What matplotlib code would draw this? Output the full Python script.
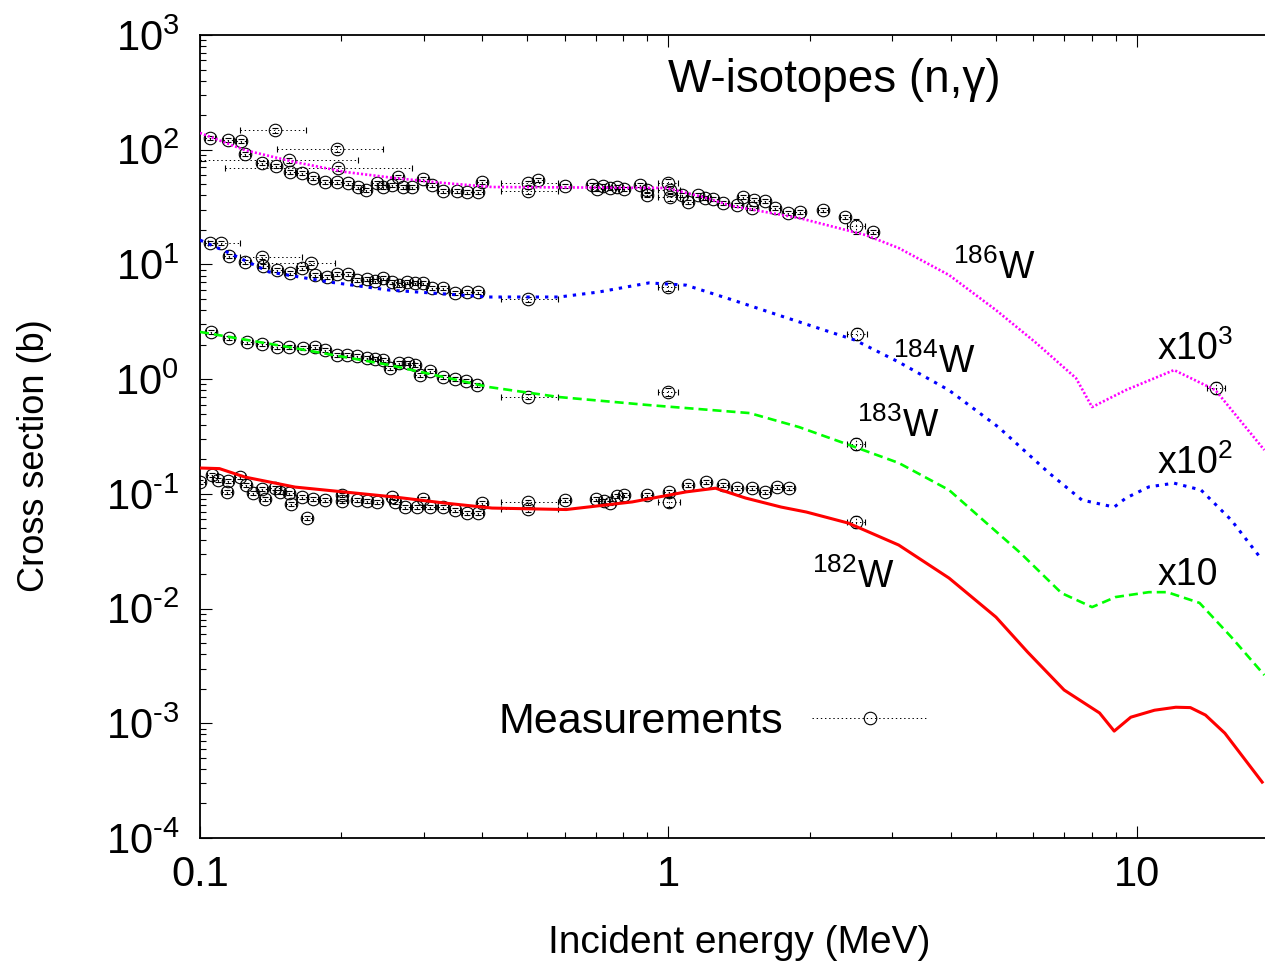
import numpy as np
import matplotlib
matplotlib.use("Agg")
import matplotlib.pyplot as plt
from matplotlib.ticker import FixedLocator, LogLocator, NullFormatter, FuncFormatter
from matplotlib.container import ErrorbarContainer
from matplotlib.legend_handler import HandlerErrorbar

plt.rcParams['font.family'] = ['Liberation Sans', 'DejaVu Sans']
plt.rcParams['mathtext.fontset'] = 'custom'
plt.rcParams['mathtext.rm'] = 'Liberation Sans'
plt.rcParams['mathtext.it'] = 'Liberation Sans:italic'
plt.rcParams['mathtext.bf'] = 'Liberation Sans:bold'
plt.rcParams['axes.unicode_minus'] = False
plt.rcParams['lines.scale_dashes'] = False

FS = 30

# ---- evaluated curves (barns), plotted times the scale factor ----
c182_e = [0.100, 0.110, 0.1248, 0.1595, 0.204, 0.2605, 0.333, 0.42, 0.605, 0.836, 1.09, 1.26, 1.46,
          1.74, 1.97, 2.42, 3.1, 3.97, 5.0, 5.84, 6.99, 8.32, 8.94, 9.7, 10.9, 12.1, 13.0, 14.0, 15.4, 18.5]
c182_s = [0.168, 0.166, 0.140, 0.1146, 0.1037, 0.0938, 0.0831, 0.0752, 0.073, 0.085, 0.104, 0.112, 0.092,
          0.0767, 0.0694, 0.0556, 0.0358, 0.01845, 0.00843, 0.00418, 0.00195, 0.00123, 0.000855, 0.00113,
          0.0013, 0.00138, 0.00137, 0.00118, 0.00082, 0.000307]

c183_e = [0.100, 0.155, 0.253, 0.414, 0.584, 0.908, 1.49, 1.9, 2.5, 3.1, 3.97, 5.64, 6.9, 8.02, 9.0,
          10.6, 11.6, 13.6, 15.9, 18.7]
c183_s = [0.258, 0.190, 0.133, 0.0853, 0.0698, 0.0594, 0.0506, 0.0382, 0.0256, 0.0186, 0.0108, 0.00305,
          0.001365, 0.00103, 0.00126, 0.00139, 0.00139, 0.00112, 0.000564, 0.000263]

c184_e = [0.100, 0.1153, 0.1404, 0.1886, 0.253, 0.414, 0.584, 0.71, 0.908, 1.09, 1.37, 1.74, 2.5, 3.10,
          3.97, 5.06, 6.49, 7.63, 8.94, 9.47, 10.6, 12.0, 13.7, 15.9, 18.5]
c184_s = [0.163, 0.126, 0.086, 0.0703, 0.0598, 0.052, 0.052, 0.0575, 0.069, 0.066, 0.049, 0.0355, 0.0219,
          0.0141, 0.0080, 0.00382, 0.00152, 0.000883, 0.000767, 0.000919, 0.00115, 0.00124, 0.00108,
          0.00059, 0.000265]

c186_e = [0.100, 0.1248, 0.1595, 0.204, 0.2605, 0.333, 0.42, 0.989, 1.179, 1.366, 1.90, 2.64, 3.10, 3.97,
          5.0, 6.09, 7.41, 8.02, 9.47, 12.0, 14.7, 18.7]
c186_s = [0.140, 0.099, 0.078, 0.064, 0.0566, 0.0512, 0.0473, 0.0464, 0.0389, 0.0323, 0.0254, 0.0180,
          0.0139, 0.00808, 0.0040, 0.00207, 0.00102, 0.000571, 0.000803, 0.00120, 0.000803, 0.000241]

# ---- measurements (barns), small error bars ----
e182 = [0.1000, 0.1061, 0.1093, 0.1142, 0.1148, 0.1217, 0.1254, 0.1298, 0.1356, 0.1376, 0.1446, 0.1482,
        0.1549, 0.1564, 0.1651, 0.1692, 0.1742, 0.1848, 0.2010, 0.2010, 0.2163, 0.2272, 0.2387, 0.2569,
        0.2608, 0.2739, 0.2906, 0.2992, 0.3097, 0.3302, 0.3502, 0.3715, 0.3922, 0.3999,
        0.601, 0.700, 0.728, 0.750, 0.777, 0.804, 0.900, 1.003, 1.101, 1.202, 1.307, 1.400, 1.508, 1.607,
        1.705, 1.808]
s182 = [0.127, 0.146, 0.132, 0.104, 0.129, 0.140, 0.119, 0.102, 0.110, 0.090, 0.112, 0.104,
        0.102, 0.0815, 0.094, 0.0615, 0.090, 0.088, 0.098, 0.087, 0.088, 0.087, 0.085, 0.094,
        0.085, 0.077, 0.077, 0.090, 0.077, 0.077, 0.072, 0.068, 0.068, 0.083,
        0.088, 0.090, 0.087, 0.083, 0.096, 0.098, 0.098, 0.104, 0.119, 0.127, 0.119, 0.112, 0.112, 0.104,
        0.1145, 0.112]

e183 = [0.1055, 0.1153, 0.1260, 0.1356, 0.1460, 0.1549, 0.1659, 0.1760, 0.1848, 0.1961, 0.2060, 0.2163,
        0.2272, 0.2363, 0.2459, 0.2544, 0.2660, 0.2780, 0.2877, 0.2949, 0.3097, 0.3302, 0.3502, 0.3696,
        0.3902]
s183 = [0.257, 0.228, 0.211, 0.202, 0.191, 0.191, 0.187, 0.191, 0.179, 0.162, 0.162, 0.159,
        0.153, 0.150, 0.147, 0.125, 0.138, 0.138, 0.133, 0.109, 0.118, 0.104, 0.100, 0.096,
        0.089]

e184 = [0.1050, 0.1153, 0.1248, 0.1363, 0.1460, 0.1556, 0.1651, 0.1760, 0.1867, 0.1961, 0.2070, 0.2163,
        0.2272, 0.2363, 0.2459, 0.2569, 0.2660, 0.2766, 0.2877, 0.2992, 0.3127, 0.3302, 0.3502, 0.3715,
        0.3922]
s184 = [0.154, 0.118, 0.105, 0.0968, 0.0894, 0.0841, 0.0930, 0.0808, 0.0777, 0.0825, 0.0825, 0.0731,
        0.0746, 0.0717, 0.0761, 0.0703, 0.0661, 0.0703, 0.0688, 0.0688, 0.0623, 0.0623, 0.0563, 0.0575,
        0.0575]

e186 = [0.1050, 0.1148, 0.1223, 0.1248, 0.1356, 0.1453, 0.1556, 0.1651, 0.1742, 0.1848, 0.1961, 0.2070,
        0.2174, 0.2262, 0.2387, 0.2459, 0.2569, 0.2646, 0.2712, 0.2835, 0.2992, 0.3127, 0.3302, 0.3537,
        0.3715, 0.3922, 0.3999,
        0.527, 0.601, 0.687, 0.704, 0.725, 0.750, 0.777, 0.804, 0.870, 0.900, 0.900, 1.069, 1.101, 1.156,
        1.196, 1.245, 1.307, 1.400, 1.442, 1.508, 1.522, 1.607, 1.688, 1.800, 1.909, 2.137, 2.381, 2.733]
s186 = [0.1265, 0.1215, 0.1191, 0.0917, 0.0766, 0.0721, 0.0639, 0.0627, 0.0567, 0.0523, 0.0523, 0.0512,
        0.0473, 0.0445, 0.0512, 0.0473, 0.0492, 0.0578, 0.0473, 0.0473, 0.0555, 0.0492, 0.0436, 0.0436,
        0.0428, 0.0428, 0.0523,
        0.0544, 0.0483, 0.0492, 0.0454, 0.0483, 0.0464, 0.0473, 0.0454, 0.0492, 0.0445, 0.0403, 0.0403,
        0.0350, 0.0403, 0.0379, 0.0372, 0.0343, 0.0329, 0.0387, 0.0310, 0.0364, 0.0357, 0.0310, 0.0281,
        0.0286, 0.0298, 0.0259, 0.0192]

# measurements with wide error boxes: (E, xs, E low, E high, relative xs error)
box182 = [(0.501, 0.0848, 0.44, 0.58, 0.05), (0.501, 0.0737, 0.44, 0.58, 0.05),
          (1.003, 0.0848, 0.95, 1.06, 0.10), (2.513, 0.0568, 2.40, 2.63, 0.12)]
box183 = [(0.501, 0.070, 0.44, 0.58, 0.05), (0.997, 0.077, 0.95, 1.05, 0.08),
          (2.513, 0.0272, 2.40, 2.63, 0.12)]
box184 = [(0.1109, 0.154, 0.104, 0.122, 0.04), (0.1356, 0.116, 0.122, 0.165, 0.04),
          (0.1725, 0.103, 0.136, 0.194, 0.04), (0.501, 0.0499, 0.44, 0.58, 0.05),
          (0.997, 0.0635, 0.95, 1.05, 0.08), (2.525, 0.0247, 2.40, 2.65, 0.12)]
box186 = [(0.1446, 0.1485, 0.122, 0.168, 0.05), (0.1549, 0.0813, 0.100, 0.217, 0.05),
          (0.1961, 0.1014, 0.146, 0.246, 0.06), (0.1971, 0.0693, 0.113, 0.283, 0.05),
          (0.501, 0.0512, 0.44, 0.58, 0.05), (0.501, 0.0436, 0.44, 0.58, 0.05),
          (0.997, 0.0512, 0.95, 1.05, 0.08), (1.007, 0.0445, 0.95, 1.06, 0.08),
          (1.007, 0.0387, 0.95, 1.06, 0.08), (2.513, 0.0216, 2.40, 2.63, 0.15),
          (14.74, 0.000836, 14.1, 15.4, 0.12)]

scales = [1, 10, 100, 1000]
curves = [(c182_e, c182_s), (c183_e, c183_s), (c184_e, c184_s), (c186_e, c186_s)]
points = [(e182, s182), (e183, s183), (e184, s184), (e186, s186)]
boxes = [box182, box183, box184, box186]
colors = ['#ff0000', '#00ff00', '#0000ff', '#ff00ff']
styles = [dict(lw=2.2, ls='-'),
          dict(lw=1.9, dashes=(6.5, 3.6)),
          dict(lw=2.2, dashes=(2.4, 4.3)),
          dict(lw=1.9, dashes=(1.5, 1.5))]

fig = plt.figure(figsize=(12.65, 9.68), dpi=100)
ax = fig.add_axes([200 / 1265, 130 / 968, 1065 / 1265, 803 / 968])

pt_style = dict(fmt='o', ms=9, mfc='none', mec='k', mew=0.8, ecolor='k',
                elinewidth=0.7, capsize=2, capthick=0.7, zorder=3)


def dotted(eb):
    for lc in eb[2]:
        lc.set_linestyle((0, (1, 2)))


for (e, s), bx, k in zip(points, boxes, scales):
    e = np.array(e)
    s = np.array(s) * k
    eb = ax.errorbar(e, s, xerr=0.025 * e, yerr=0.04 * s, **pt_style)
    dotted(eb)
    b = np.array(bx)
    be, bs = b[:, 0], b[:, 1] * k
    xe = np.vstack([be - b[:, 2], b[:, 3] - be])
    eb = ax.errorbar(be, bs, xerr=xe, yerr=b[:, 4] * bs, **pt_style)
    dotted(eb)

for (ce, cs), k, c, st in zip(curves, scales, colors, styles):
    ax.plot(ce, np.array(cs) * k, color=c, zorder=4, **st)

# legend proxy
proxy = ax.errorbar([], [], xerr=[], fmt='o', ms=9, mfc='none', mec='k', mew=0.8,
                    ecolor='k', elinewidth=0.7, capsize=3, capthick=0.7, label='Measurements')
dotted(proxy)
ax.legend(handles=[proxy], loc='center', bbox_to_anchor=(0.482, 0.1445), frameon=False,
          markerfirst=False, fontsize=31, handlelength=2.7, handletextpad=0.65, numpoints=1,
          handler_map={ErrorbarContainer: HandlerErrorbar(xerr_size=1.35)})

ax.set_xscale('log')
ax.set_yscale('log')
ax.set_xlim(0.1, 18.76)
ax.set_ylim(1e-4, 1e3)

ax.xaxis.set_major_locator(FixedLocator([0.1, 1, 10]))
ax.xaxis.set_major_formatter(FuncFormatter(lambda v, p: {0.1: '0.1', 1: '1', 10: '10'}.get(round(v, 1), '')))
ax.xaxis.set_minor_locator(LogLocator(base=10, subs=np.arange(2, 10), numticks=20))
ax.xaxis.set_minor_formatter(NullFormatter())


def yfmt(v, p):
    n = int(round(np.log10(v)))
    if n < 0:
        return r'$10^{\text{%d}}$' % n
    return r'$10^{%d}$' % n


ax.yaxis.set_major_locator(LogLocator(base=10, numticks=20))
ax.yaxis.set_major_formatter(FuncFormatter(yfmt))
ax.yaxis.set_minor_locator(LogLocator(base=10, subs=np.arange(2, 10), numticks=20))
ax.yaxis.set_minor_formatter(NullFormatter())

ax.tick_params(which='both', direction='in', top=True, right=False, width=0.8, labelsize=FS)
ax.tick_params(which='major', length=8.5)
ax.tick_params(which='minor', length=4.3)
ax.tick_params(axis='y', pad=15)
ax.tick_params(axis='x', pad=12)
for sp in ['left', 'top', 'bottom']:
    ax.spines[sp].set_linewidth(1.3)
ax.spines['right'].set_visible(False)

fig.text(35 / 1265, 1 - 456 / 968, 'Cross section (b)', rotation=90, ha='center', va='center', fontsize=26)
fig.text(739 / 1265, 1 - 943 / 968, 'Incident energy (MeV)', ha='center', va='center', fontsize=28)

ax.text(0.596, 0.944, 'W-isotopes (n,γ)', transform=ax.transAxes, ha='center', va='center', fontsize=33)

labels = [(0.707, 0.696, r'$^{186}$W'), (0.651, 0.579, r'$^{184}$W'),
          (0.617, 0.4994, r'$^{183}$W'), (0.575, 0.3113, r'$^{182}$W'),
          (0.899, 0.595, r'x10$^{3}$'), (0.899, 0.453, r'x10$^{2}$'), (0.899, 0.315, 'x10')]
for fx, fy, t in labels:
    ax.text(fx, fy, t, transform=ax.transAxes, ha='left', va='baseline', fontsize=27)

fig.savefig('out.png', dpi=100)
